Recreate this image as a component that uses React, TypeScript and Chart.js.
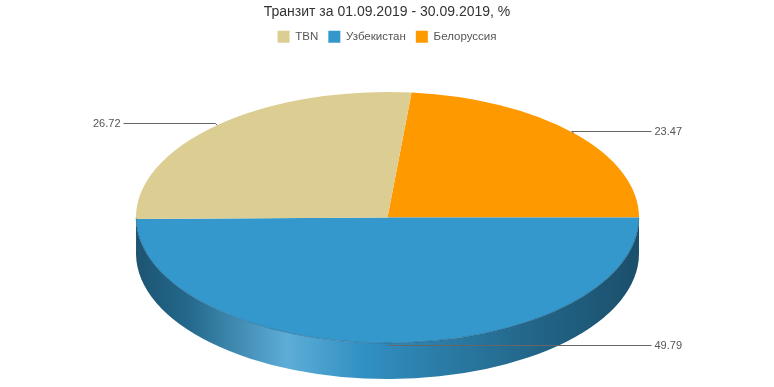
import React, { useEffect, useRef } from "react";
import { Chart, registerables } from "chart.js";

Chart.register(...registerables);

const TITLE = "Транзит за 01.09.2019 - 30.09.2019, %";
const categories = ["TBN", "Узбекистан", "Белоруссия"];
const values = [26.72, 49.79, 23.47];
const colors = ["#dccd92", "#3498cd", "#ff9900"];

// layout of the 3D ellipse
const CX = 387.5;
const CY = 217.5;
const RX = 251.5;
const RY = 125.5;
const DEPTH = 36;
const LABEL_REACH = 264;

function shade(hex: string, f: number) {
  const n = parseInt(hex.slice(1), 16);
  let r = (n >> 16) & 255, g = (n >> 8) & 255, b = n & 255;
  if (f <= 1) {
    r *= f; g *= f; b *= f;
  } else {
    const t = f - 1;
    r += (255 - r) * t; g += (255 - g) * t; b += (255 - b) * t;
  }
  return `rgb(${Math.round(r)},${Math.round(g)},${Math.round(b)})`;
}

const wallStops: [number, number][] = [
  [0, 0.55],
  [0.1, 0.68],
  [0.3, 1.2],
  [0.45, 0.95],
  [0.6, 0.82],
  [0.8, 0.66],
  [1, 0.52],
];

const pie3d = {
  id: "pie3d",
  beforeDatasetsDraw(chart: any) {
    const ctx = chart.ctx as CanvasRenderingContext2D;
    const meta = chart.getDatasetMeta(0);
    const ds = chart.data.datasets[0];
    meta.data.forEach((el: any, i: number) => {
      const color = ds.backgroundColor[i];
      let a0 = el.startAngle;
      let a1 = el.endAngle;
      const TAU = Math.PI * 2;
      while (a0 < 0) { a0 += TAU; a1 += TAU; }
      while (a0 >= TAU) { a0 -= TAU; a1 -= TAU; }
      const ranges: [number, number][] = [];
      for (const off of [0, TAU]) {
        const s = Math.max(a0, off);
        const e = Math.min(a1, off + Math.PI);
        if (e > s) ranges.push([s - off, e - off]);
      }
      ranges.forEach(([s, e]) => {
        const grad = ctx.createLinearGradient(CX - RX, 0, CX + RX, 0);
        wallStops.forEach(([p, f]) => grad.addColorStop(p, shade(color, f)));
        ctx.save();
        ctx.beginPath();
        ctx.ellipse(CX, CY, RX, RY, 0, s, e, false);
        ctx.ellipse(CX, CY + DEPTH, RX, RY, 0, e, s, true);
        ctx.closePath();
        ctx.fillStyle = grad;
        ctx.fill();
        ctx.restore();
      });
    });
    const el0 = meta.data[0];
    const R = el0.outerRadius;
    ctx.save();
    ctx.translate(CX, CY);
    ctx.scale(RX / R, RY / R);
    ctx.translate(-el0.x, -el0.y);
  },
  afterDatasetsDraw(chart: any) {
    const ctx = chart.ctx as CanvasRenderingContext2D;
    ctx.restore();
    ctx.save();
    ctx.beginPath();
    ctx.ellipse(CX, CY, RX, RY, 0, 0, Math.PI, false);
    ctx.strokeStyle = "rgba(20,60,90,0.35)";
    ctx.lineWidth = 1;
    ctx.stroke();
    ctx.restore();
    const meta = chart.getDatasetMeta(0);
    const data = chart.data.datasets[0].data;
    ctx.save();
    ctx.font = "11px 'Liberation Sans', Arial, sans-serif";
    ctx.textBaseline = "middle";
    ctx.strokeStyle = "#666";
    ctx.fillStyle = "#555";
    ctx.lineWidth = 1;
    meta.data.forEach((el: any, i: number) => {
      const mid = (el.startAngle + el.endAngle) / 2;
      const px = CX + RX * Math.cos(mid);
      const py = CY + RY * Math.sin(mid);
      const front = Math.sin(mid) > 0;
      const right = Math.cos(mid) >= 0;
      const ly = Math.round(py + (front ? 2 : -2)) + 0.5;
      const ex = right ? CX + LABEL_REACH : CX - LABEL_REACH;
      ctx.beginPath();
      ctx.moveTo(px, py);
      ctx.lineTo(px + (front ? 0 : -2), ly);
      ctx.lineTo(ex, ly);
      ctx.stroke();
      ctx.textAlign = right ? "left" : "right";
      ctx.fillText(String(data[i].toFixed(2)), ex + (right ? 3 : -3), ly);
    });
    ctx.restore();
  },
};

export default function App() {
  const ref = useRef<HTMLCanvasElement>(null);
  useEffect(() => {
    const order = [2, 1, 0];
    const share0 = values[order[0]] / values.reduce((a, b) => a + b, 0);
    const chart = new Chart(ref.current!, {
      type: "pie",
      data: {
        labels: order.map((i) => categories[i]),
        datasets: [
          {
            data: order.map((i) => values[i]),
            backgroundColor: order.map((i) => colors[i]),
            borderWidth: 0,
          },
        ],
      },
      options: {
        animation: false,
        responsive: false,
        rotation: 90 - share0 * 360,
        layout: { padding: { bottom: 10 } },
        plugins: {
          title: {
            display: true,
            text: TITLE,
            color: "#333",
            font: { family: "'Liberation Sans', Arial, sans-serif", size: 14, weight: "normal" },
            padding: { top: 4, bottom: 0 },
          },
          legend: {
            display: true,
            reverse: true,
            labels: {
              boxWidth: 12,
              boxHeight: 12,
              padding: 10,
              color: "#555",
              font: { family: "'Liberation Sans', Arial, sans-serif", size: 11.5 },
            },
          },
          tooltip: { enabled: false },
        },
      },
      plugins: [pie3d],
    });
    return () => chart.destroy();
  }, []);
  return (
    <div style={{ position: "fixed", left: 0, top: 0, width: 774, height: 387, background: "#fff" }}>
      <canvas ref={ref} width={774} height={387} />
    </div>
  );
}
